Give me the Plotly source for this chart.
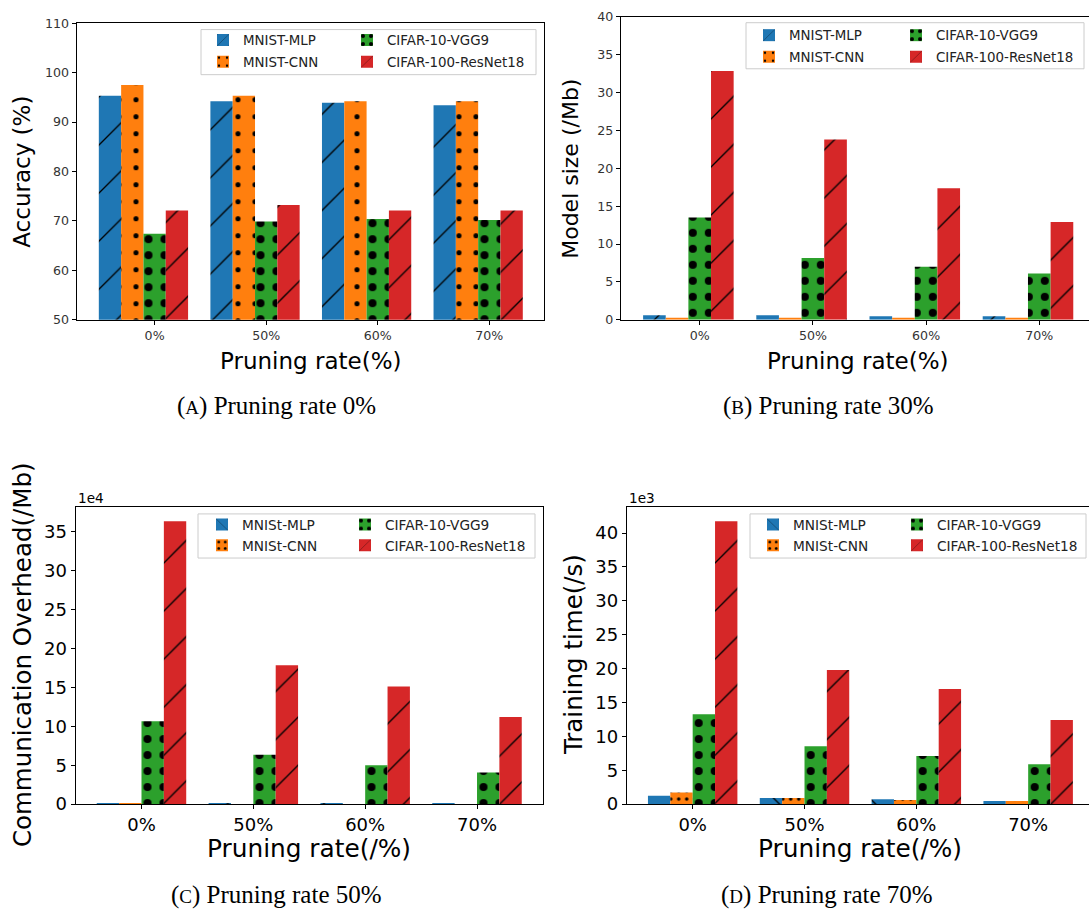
import plotly.graph_objects as go

W, H = 1089, 921


def px(x):
    return x / W


def py(y):
    return 1 - y / H


# ---------------- data ----------------
categories = ["0%", "50%", "60%", "70%"]

acc_mlp = [95.3, 94.2, 93.9, 93.4]
acc_cnn = [97.5, 95.3, 94.2, 94.2]
acc_vgg = [67.4, 69.9, 70.4, 70.2]
acc_res = [72.1, 73.2, 72.1, 72.1]

size_mlp = [0.6, 0.6, 0.45, 0.45]
size_cnn = [0.25, 0.25, 0.25, 0.25]
size_vgg = [13.5, 8.15, 7.0, 6.1]
size_res = [32.85, 23.8, 17.35, 12.9]

# communication overhead, in units of 1e4 Mb
comm_mlp = [0.1, 0.02, 0.02, 0.02]
comm_cnn = [0.02, 0.01, 0.01, 0.01]
comm_vgg = [10.65, 6.35, 5.0, 4.05]
comm_res = [36.35, 17.85, 15.1, 11.2]

# training time, in units of 1e3 s
time_mlp = [1.25, 0.9, 0.72, 0.45]
time_cnn = [1.7, 0.9, 0.6, 0.45]
time_vgg = [13.25, 8.55, 7.1, 5.9]
time_res = [41.75, 19.8, 17.0, 12.4]

names_ab = ["MNIST-MLP", "MNIST-CNN", "CIFAR-10-VGG9", "CIFAR-100-ResNet18"]
names_cd = ["MNISt-MLP", "MNISt-CNN", "CIFAR-10-VGG9", "CIFAR-100-ResNet18"]
colors = ["#1f77b4", "#ff7f0e", "#2ca02c", "#d62728"]

# ---------------- styles ----------------
pat_ab = [
    dict(shape="/", size=34, solidity=0.04),
    dict(shape=".", size=17, solidity=0.07),
    dict(shape=".", size=16, solidity=0.2),
    dict(shape="/", size=34, solidity=0.04),
]
pat_cd = [
    dict(shape="\\", size=34, solidity=0.04),
    dict(shape=".", size=8, solidity=0.15),
    dict(shape=".", size=16, solidity=0.2),
    dict(shape="/", size=34, solidity=0.04),
]

panels = [
    dict(sx="", vals=[acc_mlp, acc_cnn, acc_vgg, acc_res], names=names_ab,
         offsets=[-0.5, -0.3, -0.1, 0.1], pats=pat_ab,
         dom_x=(76.5, 544), dom_y=(15.5, 318), xr=[-0.70, 3.49], yr=[50, 110], dt=10,
         tickfs=12.6, tickcol="#333333", mirror_y=True,
         leg_text_x=(245, 389), leg_rows=(33, 55), leg_fs=13.4,
         leg_box=(201, 22, 536, 68)),
    dict(sx="2", vals=[size_mlp, size_cnn, size_vgg, size_res], names=names_ab,
         offsets=[-0.5, -0.3, -0.1, 0.1], pats=pat_ab,
         dom_x=(620.8, 1089), dom_y=(9, 318), xr=[-0.697, 3.439], yr=[0, 40], dt=5,
         tickfs=12.6, tickcol="#333333", mirror_y=False,
         leg_text_x=(791, 938), leg_rows=(28, 50), leg_fs=13.4,
         leg_box=(746, 15, 1084, 62)),
    dict(sx="3", vals=[comm_mlp, comm_cnn, comm_vgg, comm_res], names=names_cd,
         offsets=[-0.4, -0.2, 0.0, 0.2], pats=pat_cd,
         dom_x=(75.5, 543), dom_y=(509, 812), xr=[-0.59, 3.59], yr=[0, 38.17], dt=5,
         tickfs=18, tickcol="#000000", mirror_y=True,
         leg_text_x=(244, 387), leg_rows=(527, 548), leg_fs=13.7,
         leg_box=(198, 516, 535, 561)),
    dict(sx="4", vals=[time_mlp, time_cnn, time_vgg, time_res], names=names_cd,
         offsets=[-0.4, -0.2, 0.0, 0.2], pats=pat_cd,
         dom_x=(626.7, 1089), dom_y=(509, 812), xr=[-0.59, 3.544], yr=[0, 43.84], dt=5,
         tickfs=18, tickcol="#000000", mirror_y=False,
         leg_text_x=(795, 939), leg_rows=(527, 548), leg_fs=13.7,
         leg_box=(750, 516, 1086, 561)),
]

fig = go.Figure()
layout = dict(
    width=W, height=H, margin=dict(l=0, r=0, t=0, b=0),
    paper_bgcolor="white", plot_bgcolor="white",
    barmode="overlay", showlegend=True,
    font=dict(family="DejaVu Sans", color="#000000"),
)
shapes = []
annotations = []

for p, pan in enumerate(panels):
    sx = pan["sx"]
    for s in range(4):
        n = p * 4 + s + 1
        leg = "legend" if n == 1 else f"legend{n}"
        pat = dict(pan["pats"][s])
        pat.update(fgcolor="black", bgcolor=colors[s], fillmode="replace")
        fig.add_trace(go.Bar(
            x=categories, y=pan["vals"][s], name=pan["names"][s],
            xaxis="x" + sx, yaxis="y" + sx,
            width=0.2, offset=pan["offsets"][s],
            marker=dict(color=colors[s], line=dict(width=0), pattern=pat),
            legend=leg, showlegend=True,
        ))
        col, row = s // 2, s % 2
        layout[leg] = dict(
            x=px(pan["leg_text_x"][col] - 42), y=py(pan["leg_rows"][row]),
            xanchor="left", yanchor="middle",
            bgcolor="rgba(0,0,0,0)", borderwidth=0,
            font=dict(family="DejaVu Sans", size=pan["leg_fs"], color="#222222"),
        )
    x0, y0, x1, y1 = pan["leg_box"]
    shapes.append(dict(type="rect", xref="paper", yref="paper",
                       x0=px(x0), x1=px(x1), y0=py(y1), y1=py(y0),
                       line=dict(color="#cccccc", width=1),
                       fillcolor="rgba(255,255,255,0.8)", layer="above"))
    layout["xaxis" + sx] = dict(
        domain=[px(pan["dom_x"][0]), px(pan["dom_x"][1])],
        anchor="y" + sx, type="category", categoryorder="array",
        categoryarray=categories, range=pan["xr"],
        showline=True, linecolor="#000000", linewidth=1, mirror=True,
        ticks="outside", ticklen=4, tickwidth=1, tickcolor="#000000",
        tickfont=dict(family="DejaVu Sans", size=pan["tickfs"], color=pan["tickcol"]),
        showgrid=False, zeroline=False, fixedrange=True,
    )
    layout["yaxis" + sx] = dict(
        domain=[py(pan["dom_y"][1]), py(pan["dom_y"][0])],
        anchor="x" + sx, range=pan["yr"], dtick=pan["dt"], tick0=0,
        showline=True, linecolor="#000000", linewidth=1, mirror=pan["mirror_y"],
        ticks="outside", ticklen=4, tickwidth=1, tickcolor="#000000",
        tickfont=dict(family="DejaVu Sans", size=pan["tickfs"], color=pan["tickcol"]),
        showgrid=False, zeroline=False, fixedrange=True,
    )


def title(text, x, y, size, angle=0):
    annotations.append(dict(text=text, x=px(x), y=py(y), xref="paper", yref="paper",
                            showarrow=False, textangle=angle, xanchor="center",
                            yanchor="middle",
                            font=dict(family="DejaVu Sans", size=size, color="#000000")))


title("Accuracy (%)", 22, 167, 23, -90)
title("Pruning rate(%)", 310, 360, 23)
title("Model size (/Mb)", 571, 164, 22, -90)
title("Pruning rate(%)", 857, 360, 23)
title("Communication Overhead(/Mb)", 22, 660, 24.5, -90)
title("Pruning rate(/%)", 309, 857, 24.8)
title("Training time(/s)", 573, 660, 24.5, -90)
title("Pruning rate(/%)", 860, 857, 24.8)

for txt, x in (("1e4", 76), ("1e3", 627)):
    annotations.append(dict(text=txt, x=px(x), y=py(500), xref="paper", yref="paper",
                            showarrow=False, xanchor="left", yanchor="middle",
                            font=dict(family="DejaVu Sans", size=13.6, color="#000000")))

caps = [("A", "0%", 276, 406), ("B", "30%", 828, 406),
        ("C", "50%", 276, 905), ("D", "70%", 827, 905)]
for letter, rate, x, y in caps:
    annotations.append(dict(
        text=f"(<span style='font-size:19px'>{letter}</span>) Pruning rate {rate}",
        x=px(x), y=py(y), xref="paper", yref="paper", showarrow=False,
        xanchor="center", yanchor="middle",
        font=dict(family="Liberation Serif", size=25, color="#000000")))

layout["shapes"] = shapes
layout["annotations"] = annotations
fig.update_layout(**layout)
fig.write_html("out.html")
